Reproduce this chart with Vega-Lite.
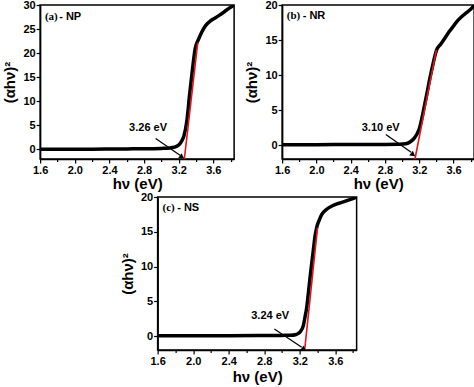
{
  "$schema": "https://vega.github.io/schema/vega-lite/v6.json",
  "padding": {"left": 2, "top": -2, "right": 0, "bottom": 0},
  "background": "white",
  "config": {
    "view": {"stroke": "black", "strokeWidth": 1.5},
    "axis": {
      "domainColor": "black", "domainWidth": 1.5, "tickColor": "black", "tickWidth": 1.2,
      "labelFont": "Liberation Sans", "labelFontWeight": "bold", "labelFontSize": 11, "labelColor": "black",
      "titleFont": "Liberation Sans", "titleFontWeight": "bold", "titleFontSize": 15, "titleColor": "black",
      "grid": false, "labelOverlap": false, "labelFlush": false, "labelPadding": 1
    },
    "text": {"font": "Liberation Sans", "fontWeight": "bold", "fontSize": 11, "color": "black"}
  },
  "datasets": {
    "a_curve": [
      {"x": 1.6, "y": 0.05}, {"x": 1.8, "y": 0.05}, {"x": 2.0, "y": 0.05}, {"x": 2.2, "y": 0.05},
      {"x": 2.4, "y": 0.07}, {"x": 2.6, "y": 0.1}, {"x": 2.8, "y": 0.12}, {"x": 2.9, "y": 0.15},
      {"x": 3.0, "y": 0.2}, {"x": 3.1, "y": 0.3}, {"x": 3.15, "y": 0.45}, {"x": 3.2, "y": 0.9},
      {"x": 3.24, "y": 1.9}, {"x": 3.26, "y": 2.8}, {"x": 3.295, "y": 6.0}, {"x": 3.326, "y": 11.4},
      {"x": 3.36, "y": 16.8}, {"x": 3.39, "y": 20.9}, {"x": 3.43, "y": 22.9}, {"x": 3.47, "y": 24.5},
      {"x": 3.505, "y": 25.6}, {"x": 3.56, "y": 26.6}, {"x": 3.62, "y": 27.3}, {"x": 3.68, "y": 28.0},
      {"x": 3.734, "y": 28.7}, {"x": 3.78, "y": 29.3}, {"x": 3.84, "y": 30.0}
    ],
    "a_fit": [{"x": 3.265, "y": -2}, {"x": 3.42, "y": 22.2}],
    "a_arrow": [{"x": 2.934, "y": 2.24, "x2": 3.215, "y2": -1.2}],
    "a_head": [{"x": 3.23, "y": -1.5}],
    "a_text": [{"x": 2.846, "y": 4.4, "t": "3.26 eV"}],
    "a_lab1": [{"x": 1.655, "y": 27.6, "t": "(a)"}],
    "a_lab2": [{"x": 1.82, "y": 27.6, "t": "- NP"}],
    "b_curve": [
      {"x": 1.6, "y": 0.05}, {"x": 2.0, "y": 0.05}, {"x": 2.4, "y": 0.07}, {"x": 2.8, "y": 0.08},
      {"x": 2.95, "y": 0.1}, {"x": 3.0, "y": 0.13}, {"x": 3.065, "y": 0.25}, {"x": 3.1, "y": 0.5},
      {"x": 3.14, "y": 0.95}, {"x": 3.17, "y": 1.5}, {"x": 3.2, "y": 2.3}, {"x": 3.23, "y": 3.8},
      {"x": 3.26, "y": 5.6}, {"x": 3.29, "y": 7.4}, {"x": 3.32, "y": 9.3}, {"x": 3.35, "y": 11.0},
      {"x": 3.37, "y": 12.1}, {"x": 3.4, "y": 13.5}, {"x": 3.45, "y": 14.4}, {"x": 3.5, "y": 15.3},
      {"x": 3.55, "y": 16.2}, {"x": 3.6, "y": 17.0}, {"x": 3.65, "y": 17.8}, {"x": 3.7, "y": 18.4},
      {"x": 3.75, "y": 18.9}, {"x": 3.8, "y": 19.4}, {"x": 3.84, "y": 19.9}
    ],
    "b_fit": [{"x": 3.15, "y": -2}, {"x": 3.4, "y": 13.6}],
    "b_arrow": [{"x": 2.81, "y": 1.49, "x2": 3.105, "y2": -1.05}],
    "b_head": [{"x": 3.12, "y": -1.3}],
    "b_text": [{"x": 2.75, "y": 2.5, "t": "3.10 eV"}],
    "b_lab1": [{"x": 1.655, "y": 18.4, "t": "(b)"}],
    "b_lab2": [{"x": 1.84, "y": 18.4, "t": "- NR"}],
    "c_curve": [
      {"x": 1.6, "y": 0.05}, {"x": 2.0, "y": 0.05}, {"x": 2.4, "y": 0.06}, {"x": 2.8, "y": 0.08},
      {"x": 3.0, "y": 0.1}, {"x": 3.1, "y": 0.12}, {"x": 3.15, "y": 0.2}, {"x": 3.18, "y": 0.35},
      {"x": 3.21, "y": 0.7}, {"x": 3.24, "y": 1.5}, {"x": 3.26, "y": 2.8}, {"x": 3.277, "y": 4.0},
      {"x": 3.295, "y": 6.0}, {"x": 3.314, "y": 8.2}, {"x": 3.333, "y": 10.3}, {"x": 3.353, "y": 12.4},
      {"x": 3.37, "y": 14.2}, {"x": 3.39, "y": 15.6}, {"x": 3.42, "y": 16.7}, {"x": 3.448, "y": 17.5},
      {"x": 3.5, "y": 18.2}, {"x": 3.562, "y": 18.7}, {"x": 3.64, "y": 19.1}, {"x": 3.714, "y": 19.4},
      {"x": 3.78, "y": 19.7}, {"x": 3.84, "y": 20.0}
    ],
    "c_fit": [{"x": 3.255, "y": -2}, {"x": 3.4, "y": 15.6}],
    "c_arrow": [{"x": 2.914, "y": 1.02, "x2": 3.222, "y2": -1.6}],
    "c_head": [{"x": 3.239, "y": -1.85}],
    "c_text": [{"x": 2.867, "y": 2.94, "t": "3.24 eV"}],
    "c_lab1": [{"x": 1.655, "y": 18.4, "t": "(c)"}],
    "c_lab2": [{"x": 1.82, "y": 18.4, "t": "- NS"}]
  },
  "spacing": -2,
  "center": true,
  "vconcat": [
    {
      "spacing": 9,
      "hconcat": [
        {
          "width": 194, "height": 154,
          "encoding": {
            "x": {"field": "x", "type": "quantitative", "scale": {"domain": [1.6, 3.84], "nice": false, "zero": false},
              "axis": {"title": "hν (eV)", "values": [1.6, 1.8, 2.0, 2.2, 2.4, 2.6, 2.8, 3.0, 3.2, 3.4, 3.6, 3.8],
                "labelExpr": "round(datum.value*10)%4==0 ? format(datum.value,'.1f') : ''",
                "tickSize": {"condition": {"test": "round(datum.value*10)%4==0", "value": 4}, "value": 2.5}, "titlePadding": 1}},
            "y": {"field": "y", "type": "quantitative", "scale": {"domain": [-2, 30], "nice": false, "zero": false},
              "axis": {"title": "(αhν)²", "values": [0, 5, 10, 15, 20, 25, 30], "format": "d", "tickSize": 4, "titlePadding": 5}}
          },
          "layer": [
            {"data": {"name": "a_curve"}, "mark": {"type": "line", "color": "black", "strokeWidth": 3.5, "interpolate": "monotone", "clip": true}},
            {"data": {"name": "a_fit"}, "mark": {"type": "line", "color": "#e8141b", "strokeWidth": 1.6, "clip": true}},
            {"data": {"name": "a_arrow"}, "mark": {"type": "rule", "color": "black", "strokeWidth": 1.2}, "encoding": {"x2": {"field": "x2"}, "y2": {"field": "y2"}}},
            {"data": {"name": "a_head"}, "mark": {"type": "point", "shape": "triangle", "filled": true, "color": "black", "opacity": 1, "size": 35, "angle": 125}},
            {"data": {"name": "a_text"}, "mark": {"type": "text", "align": "center", "baseline": "middle"}, "encoding": {"text": {"field": "t"}}},
            {"data": {"name": "a_lab1"}, "mark": {"type": "text", "align": "left", "baseline": "middle", "font": "Liberation Serif"}, "encoding": {"text": {"field": "t"}}},
            {"data": {"name": "a_lab2"}, "mark": {"type": "text", "align": "left", "baseline": "middle"}, "encoding": {"text": {"field": "t"}}}
          ]
        },
        {
          "width": 192, "height": 154,
          "encoding": {
            "x": {"field": "x", "type": "quantitative", "scale": {"domain": [1.6, 3.84], "nice": false, "zero": false},
              "axis": {"title": "hν (eV)", "values": [1.6, 1.8, 2.0, 2.2, 2.4, 2.6, 2.8, 3.0, 3.2, 3.4, 3.6, 3.8],
                "labelExpr": "round(datum.value*10)%4==0 ? format(datum.value,'.1f') : ''",
                "tickSize": {"condition": {"test": "round(datum.value*10)%4==0", "value": 4}, "value": 2.5}, "titlePadding": 1}},
            "y": {"field": "y", "type": "quantitative", "scale": {"domain": [-2, 20], "nice": false, "zero": false},
              "axis": {"title": "(αhν)²", "values": [0, 5, 10, 15, 20], "format": "d", "tickSize": 4, "titlePadding": 5}}
          },
          "layer": [
            {"data": {"name": "b_curve"}, "mark": {"type": "line", "color": "black", "strokeWidth": 3.5, "interpolate": "monotone", "clip": true}},
            {"data": {"name": "b_fit"}, "mark": {"type": "line", "color": "#e8141b", "strokeWidth": 1.6, "clip": true}},
            {"data": {"name": "b_arrow"}, "mark": {"type": "rule", "color": "black", "strokeWidth": 1.2}, "encoding": {"x2": {"field": "x2"}, "y2": {"field": "y2"}}},
            {"data": {"name": "b_head"}, "mark": {"type": "point", "shape": "triangle", "filled": true, "color": "black", "opacity": 1, "size": 35, "angle": 127}},
            {"data": {"name": "b_text"}, "mark": {"type": "text", "align": "center", "baseline": "middle"}, "encoding": {"text": {"field": "t"}}},
            {"data": {"name": "b_lab1"}, "mark": {"type": "text", "align": "left", "baseline": "middle", "font": "Liberation Serif"}, "encoding": {"text": {"field": "t"}}},
            {"data": {"name": "b_lab2"}, "mark": {"type": "text", "align": "left", "baseline": "middle"}, "encoding": {"text": {"field": "t"}}}
          ]
        }
      ]
    },
    {
      "width": 199, "height": 153,
      "encoding": {
        "x": {"field": "x", "type": "quantitative", "scale": {"domain": [1.6, 3.84], "nice": false, "zero": false},
          "axis": {"title": "hν (eV)", "values": [1.6, 1.8, 2.0, 2.2, 2.4, 2.6, 2.8, 3.0, 3.2, 3.4, 3.6, 3.8],
            "labelExpr": "round(datum.value*10)%4==0 ? format(datum.value,'.1f') : ''",
            "tickSize": {"condition": {"test": "round(datum.value*10)%4==0", "value": 4}, "value": 2.5}, "titlePadding": 3}},
        "y": {"field": "y", "type": "quantitative", "scale": {"domain": [-2, 20], "nice": false, "zero": false},
          "axis": {"title": "(αhν)²", "values": [0, 5, 10, 15, 20], "format": "d", "tickSize": 4, "titlePadding": 5}}
      },
      "layer": [
        {"data": {"name": "c_curve"}, "mark": {"type": "line", "color": "black", "strokeWidth": 3.5, "interpolate": "monotone", "clip": true}},
        {"data": {"name": "c_fit"}, "mark": {"type": "line", "color": "#e8141b", "strokeWidth": 1.6, "clip": true}},
        {"data": {"name": "c_arrow"}, "mark": {"type": "rule", "color": "black", "strokeWidth": 1.2}, "encoding": {"x2": {"field": "x2"}, "y2": {"field": "y2"}}},
        {"data": {"name": "c_head"}, "mark": {"type": "point", "shape": "triangle", "filled": true, "color": "black", "opacity": 1, "size": 35, "angle": 126}},
        {"data": {"name": "c_text"}, "mark": {"type": "text", "align": "center", "baseline": "middle"}, "encoding": {"text": {"field": "t"}}},
        {"data": {"name": "c_lab1"}, "mark": {"type": "text", "align": "left", "baseline": "middle", "font": "Liberation Serif"}, "encoding": {"text": {"field": "t"}}},
        {"data": {"name": "c_lab2"}, "mark": {"type": "text", "align": "left", "baseline": "middle"}, "encoding": {"text": {"field": "t"}}}
      ]
    }
  ]
}
